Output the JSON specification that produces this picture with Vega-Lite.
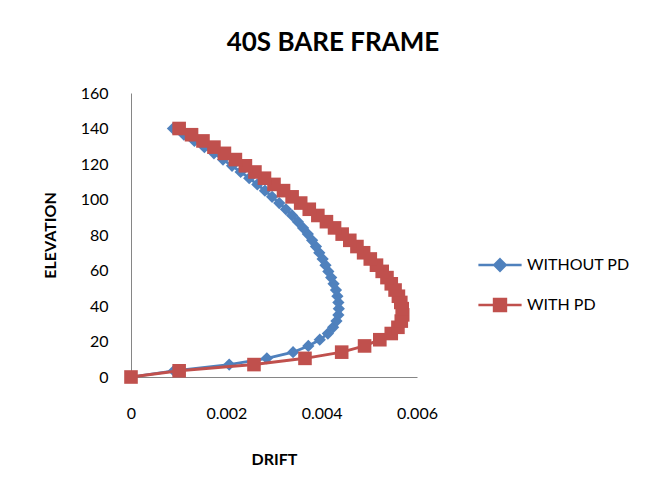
{
  "$schema": "https://vega.github.io/schema/vega-lite/v6.json",
  "width": 286,
  "height": 284,
  "autosize": "none",
  "padding": {"left": 131, "top": 93, "right": 241, "bottom": 119},
  "background": "white",
  "config": {
    "font": "Lato",
    "view": {"stroke": null},
    "axis": {"grid": false, "ticks": false, "tickSize": 0, "labelFlush": false, "domainColor": "#868686", "domainWidth": 1, "labelFont": "Lato", "labelFontSize": 16, "labelColor": "#000000", "titleFont": "Lato", "titleFontSize": 16, "titleFontWeight": "bold", "titleColor": "#000000"}
  },
  "title": {"text": "40S BARE FRAME", "font": "Lato", "fontSize": 26, "fontWeight": "bold", "color": "#000000", "anchor": "middle", "frame": "group", "dx": 59, "offset": 29},
  "datasets": {
    "drift": [
      {"series": "WITHOUT PD", "elev": 0, "drift": 0},
      {"series": "WITHOUT PD", "elev": 3.5, "drift": 0.0009},
      {"series": "WITHOUT PD", "elev": 7, "drift": 0.00206},
      {"series": "WITHOUT PD", "elev": 10.5, "drift": 0.00285},
      {"series": "WITHOUT PD", "elev": 14, "drift": 0.0034},
      {"series": "WITHOUT PD", "elev": 17.5, "drift": 0.00372},
      {"series": "WITHOUT PD", "elev": 21, "drift": 0.00396},
      {"series": "WITHOUT PD", "elev": 24.5, "drift": 0.00413},
      {"series": "WITHOUT PD", "elev": 28, "drift": 0.00424},
      {"series": "WITHOUT PD", "elev": 31.5, "drift": 0.00431},
      {"series": "WITHOUT PD", "elev": 35, "drift": 0.00435},
      {"series": "WITHOUT PD", "elev": 38.5, "drift": 0.00436},
      {"series": "WITHOUT PD", "elev": 42, "drift": 0.00435},
      {"series": "WITHOUT PD", "elev": 45.5, "drift": 0.00433},
      {"series": "WITHOUT PD", "elev": 49, "drift": 0.0043},
      {"series": "WITHOUT PD", "elev": 52.5, "drift": 0.00425},
      {"series": "WITHOUT PD", "elev": 56, "drift": 0.0042},
      {"series": "WITHOUT PD", "elev": 59.5, "drift": 0.00414},
      {"series": "WITHOUT PD", "elev": 63, "drift": 0.00408},
      {"series": "WITHOUT PD", "elev": 66.5, "drift": 0.00402},
      {"series": "WITHOUT PD", "elev": 70, "drift": 0.00395},
      {"series": "WITHOUT PD", "elev": 73.5, "drift": 0.00388},
      {"series": "WITHOUT PD", "elev": 77, "drift": 0.0038},
      {"series": "WITHOUT PD", "elev": 80.5, "drift": 0.00371},
      {"series": "WITHOUT PD", "elev": 84, "drift": 0.00361},
      {"series": "WITHOUT PD", "elev": 87.5, "drift": 0.0035},
      {"series": "WITHOUT PD", "elev": 91, "drift": 0.00338},
      {"series": "WITHOUT PD", "elev": 94.5, "drift": 0.00325},
      {"series": "WITHOUT PD", "elev": 98, "drift": 0.00311},
      {"series": "WITHOUT PD", "elev": 101.5, "drift": 0.00296},
      {"series": "WITHOUT PD", "elev": 105, "drift": 0.00281},
      {"series": "WITHOUT PD", "elev": 108.5, "drift": 0.00265},
      {"series": "WITHOUT PD", "elev": 112, "drift": 0.00248},
      {"series": "WITHOUT PD", "elev": 115.5, "drift": 0.0023},
      {"series": "WITHOUT PD", "elev": 119, "drift": 0.00212},
      {"series": "WITHOUT PD", "elev": 122.5, "drift": 0.00193},
      {"series": "WITHOUT PD", "elev": 126, "drift": 0.00174},
      {"series": "WITHOUT PD", "elev": 129.5, "drift": 0.00154},
      {"series": "WITHOUT PD", "elev": 133, "drift": 0.00133},
      {"series": "WITHOUT PD", "elev": 136.5, "drift": 0.00111},
      {"series": "WITHOUT PD", "elev": 140, "drift": 0.00088},
      {"series": "WITH PD", "elev": 0, "drift": 0},
      {"series": "WITH PD", "elev": 3.5, "drift": 0.00101},
      {"series": "WITH PD", "elev": 7, "drift": 0.00258},
      {"series": "WITH PD", "elev": 10.5, "drift": 0.00365},
      {"series": "WITH PD", "elev": 14, "drift": 0.00442},
      {"series": "WITH PD", "elev": 17.5, "drift": 0.0049},
      {"series": "WITH PD", "elev": 21, "drift": 0.00522},
      {"series": "WITH PD", "elev": 24.5, "drift": 0.00546},
      {"series": "WITH PD", "elev": 28, "drift": 0.0056},
      {"series": "WITH PD", "elev": 31.5, "drift": 0.00567},
      {"series": "WITH PD", "elev": 35, "drift": 0.0057},
      {"series": "WITH PD", "elev": 38.5, "drift": 0.00569},
      {"series": "WITH PD", "elev": 42, "drift": 0.00566},
      {"series": "WITH PD", "elev": 45.5, "drift": 0.00561},
      {"series": "WITH PD", "elev": 49, "drift": 0.00554},
      {"series": "WITH PD", "elev": 52.5, "drift": 0.00546},
      {"series": "WITH PD", "elev": 56, "drift": 0.00537},
      {"series": "WITH PD", "elev": 59.5, "drift": 0.00527},
      {"series": "WITH PD", "elev": 63, "drift": 0.00515},
      {"series": "WITH PD", "elev": 66.5, "drift": 0.00502},
      {"series": "WITH PD", "elev": 70, "drift": 0.00488},
      {"series": "WITH PD", "elev": 73.5, "drift": 0.00474},
      {"series": "WITH PD", "elev": 77, "drift": 0.00459},
      {"series": "WITH PD", "elev": 80.5, "drift": 0.00443},
      {"series": "WITH PD", "elev": 84, "drift": 0.00427},
      {"series": "WITH PD", "elev": 87.5, "drift": 0.0041},
      {"series": "WITH PD", "elev": 91, "drift": 0.00392},
      {"series": "WITH PD", "elev": 94.5, "drift": 0.00374},
      {"series": "WITH PD", "elev": 98, "drift": 0.00356},
      {"series": "WITH PD", "elev": 101.5, "drift": 0.00338},
      {"series": "WITH PD", "elev": 105, "drift": 0.0032},
      {"series": "WITH PD", "elev": 108.5, "drift": 0.003},
      {"series": "WITH PD", "elev": 112, "drift": 0.0028},
      {"series": "WITH PD", "elev": 115.5, "drift": 0.0026},
      {"series": "WITH PD", "elev": 119, "drift": 0.0024},
      {"series": "WITH PD", "elev": 122.5, "drift": 0.00219},
      {"series": "WITH PD", "elev": 126, "drift": 0.00196},
      {"series": "WITH PD", "elev": 129.5, "drift": 0.00174},
      {"series": "WITH PD", "elev": 133, "drift": 0.00151},
      {"series": "WITH PD", "elev": 136.5, "drift": 0.00127},
      {"series": "WITH PD", "elev": 140, "drift": 0.00101}
    ]
  },
  "data": {"name": "drift"},
  "encoding": {
    "x": {"field": "drift", "type": "quantitative", "scale": {"domain": [0, 0.006], "nice": false}, "axis": {"title": "DRIFT", "values": [0, 0.002, 0.004, 0.006], "format": "~g", "labelPadding": 28, "titlePadding": 30}},
    "y": {"field": "elev", "type": "quantitative", "scale": {"domain": [0, 160], "nice": false}, "axis": {"title": "ELEVATION", "values": [0, 20, 40, 60, 80, 100, 120, 140, 160], "labelPadding": 23, "titlePadding": 22}},
    "color": {"field": "series", "type": "nominal", "scale": {"domain": ["WITHOUT PD", "WITH PD"], "range": ["#4F81BD", "#C0504D"]},
      "legend": {"title": null, "orient": "none", "legendX": 354, "legendY": 157, "padding": 0, "symbolSize": 729, "symbolStrokeWidth": 2.5, "rowPadding": 14, "labelOffset": 12, "labelFont": "Lato", "labelFontSize": 16, "labelColor": "#000000",
        "encode": {"symbols": {"update": {
          "shape": {"signal": "datum.value === 'WITH PD' ? 'M-1.6,0H1.6M-0.44,-0.44H0.44V0.44H-0.44Z' : 'M-1.6,0H1.6M0,-0.42L0.42,0L0,0.42L-0.42,0Z'"},
          "fill": {"scale": "color", "field": "value"},
          "stroke": {"scale": "color", "field": "value"},
          "opacity": {"value": 1},
          "fillOpacity": {"value": 1}
        }}}}
    },
    "order": {"field": "elev", "type": "quantitative"}
  },
  "layer": [
    {"transform": [{"filter": "datum.series === 'WITHOUT PD'"}], "mark": {"type": "line", "strokeWidth": 2.75}},
    {"transform": [{"filter": "datum.series === 'WITHOUT PD'"}], "mark": {"type": "point", "shape": "diamond", "filled": true, "opacity": 1, "size": 150}},
    {"transform": [{"filter": "datum.series === 'WITH PD'"}], "mark": {"type": "line", "strokeWidth": 3}},
    {"transform": [{"filter": "datum.series === 'WITH PD'"}], "mark": {"type": "point", "shape": "square", "filled": true, "opacity": 1, "size": 185}}
  ]
}
